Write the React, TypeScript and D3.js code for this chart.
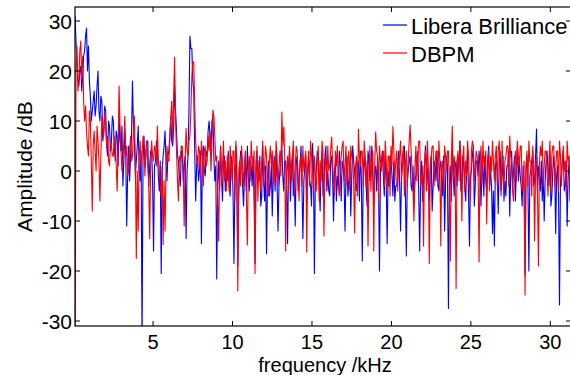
import React from "react";
import * as d3 from "d3";

// frequency grid of the spectrum bins (kHz)
const freqStart = 0.09;
const freqStep = 0.06025;

// Libera Brilliance spectrum (dB)
const liberaValues: number[] = [
  31, 26, 22, 18, 17, 20, 21, 16, 19, 23, 24, 27, 28.6, 20, 25, 18, 15, 10, 12, 14,
  16, 11, 13, 17, 20, 12, 10, 15, 14, 6, 8, 13, 12, 5, 3, 10, 9, 4, 6, 11,
  10, 5, 2, 8, 7, 1, 11, 6, 4, 9, -3, 2, 8, 3, -11, 0, 5, -2, 3, 7,
  18, 9, 6, -1, 2, 5, 9, 0, -2, 4, -35, 2, 7, 1, 3, 6, 6, -3, 1, 4,
  4, -2, -16, 1, 2, 6, 5, -1, -4, 2, -20.5, 0, 3, 5, 8, 2, -2, 3, 4, 7,
  11, 6, 5, 9, 17, 12, 8, 3, 2, -1, -3, 4, 4, -2, 1, 3, -13.5, 0, 3, 12,
  27, 24.5, 24.5, 18, 16, 4, -6, 1, 3, -2, 0, 4, -14.5, 2, 5, 0, -1, 4, 3, 8,
  10, 7, 4, 10, 11, 3, -2, 1, -21.6, -3, 2, -4, 5, -1, -6, 2, 3, -4, 0, -2,
  4, -3, -5, 3, 2, -4, -18.5, -1, 5, -2, -19, -5, 1, 4, 3, -3, -7, -1, 2, -4,
  5, -1, -4, 2, 1, -3, 3, -6, -18.5, 2, 4, -1, -2, 3, -7, -5, 5, -2, -6, 1,
  -16.5, -2, 2, -5, -3, 1, -9, -1, 3, -4, 4, -2, -12, -3, 0, 3, 5, -1, -4, 2,
  2, -3, -14.5, 1, 4, -6, 1, 3, -5, -1, -11, 2, 3, -4, -2, 1, 5, -3, -13.5, -2,
  1, 3, -6, 0, 2, -2, -3, -7, 5.5, 1, -20.5, -1, 0, 4, 3, -3, -8, 1, 4, -5,
  -2, 3, 5, -4, 0, -4, -5, 2, 3, -1, -10, 0, 2, -6, -1, -3, 4, 1, -6, 2,
  1, -2, -12, 0, 3, -5, -2, 2, -9, -1, 5, 2, 0, -3, -4, 1, 2, -6, 4, -1,
  -18, -2, 1, 3, -3, -7, 4, 2, -2, 1, 5, -1, -7, 0, 1, -4, 3, -3, -20, 0,
  2, 4, -1, -5, 4, -2, -14.5, 0, -3, 3, 3, -1, -5, 2, -6, -3, -3, 1, 4, -2,
  -12, -1, 1, 3, 5, -4, -17, -2, 0, 2, 3, -3, -4, 1, -7, -2, -1, 3, 4, -5,
  -16, -1, 2, -6, -2, 1, 5, 2, 0, -4, -6, 1, 3, -8, -3, 2, 1, -2, 4, -3,
  -4, 1, 2, -1, -5, 3, -12, -2, 3, 1, -27.5, -3, 1, -6, 4, 0, -5, 1, 2, -3,
  3, 1, 6, -4, -2, 3, 1, -3, -6, 0, 4, -5, -15, -1, 0, 3, 5, -7, -3, 2,
  2, -1, 4, 1, -7, 0, 1, -5, 3, -2, -4, 2, 5, -3, 0, -3, -12.5, -4, -15, 1,
  2, 0, -8.5, 1, 4, -4, -1, 3, -6, -2, -5, 1, 1, 4, -9, -1, 4, -3, 0, 3,
  -6, 1, 5, -2, 2, -1, -3, -7, 1, -4, -20.8, 0, 3, -2, -20, -1, 0, 2, 4, -3,
  -2, 3, 8.4, -4, 1, -1, -4, 2, -6, 0, -10, -2, 2, 4, 0, -3, 4, -7, -5, 0,
  3, 0, -12.5, -1, 1, -5, -26.8, -2, 0, 2, 4, -4, -3, 2, -11, -1, 2, -6, 1, 3,
];

// DBPM spectrum (dB)
const dbpmValues: number[] = [
  -40, 20, 25, 16, 18, 24, 26, 19, 23, 14, 10, 13, 8, 5, 3, 12, 10, 2, -8, 5,
  8, 4, 0, 9, 6, 2, -6, 3, 11, 8, 7, 12, 9, 5, 7, 2, 1, 6, 5, 3,
  3, 7, 6, 1, -4, 5, 17, 9, 4, 0, 2, 6, 11, 3, 5, -1, 0, 4, 7, 2,
  3, 8, 11, 2, -17.5, 0, -12, 3, 6, 1, 3, 7, 5, -1, 4, 6, 1, -3, -13.5, 2,
  6, 3, 2, 5, 4, 1, 9, 2, 0, -3, -5, 1, -14.7, -2, -12, 0, 5, 2, 2, 6,
  11, 14, 6, 15, 22.8, 10, 4, -2, -6, 3, 2, 5, 5, 0, -11, 2, 8.5, 4, 3, 6,
  7, 12, 19, 22, 21.6, 13, 6, 2, 1, 5, 4, -1, 6, 3, -3, 4, 5, 1, 2, 7,
  4, 8, 0, 6, 12.2, 11, 7, 2, 3, -5, -14, 0, 5, -3, 1, 6, -2, 2, -4, 3,
  3, -4, 5, 2, -2, 4, 4, -6, 6, 2, -24, 0, 2, -3, 5, 1, -3, 2, 4, -5,
  -14.8, 1, 3, -2, 6, 2, 0, 4, -20.5, -2, 5, -6, 2, -1, -4, 2, 6, -3, 1, 5,
  3, -4, -5, 2, 5, 1, 4, -3, 2, -2, 6, 3, -3, 1, 4, -1, 11.8, 5, 8.8, 3,
  -16, 0, 3, -4, 5, 1, -2, 3, 6, -5, 1, 5, 4, -1, -6, 2, 3, -3, 5, 0,
  2, 4, -16.2, 1, 4, -3, 6, 3, 0, -4, 3, -1, -4, 2, 5, -6, 2, -2, 6, 4,
  -13, 1, 3, -3, 5, 0, 1, 4, 6.8, 2, -2, -5, 4, 1, 5, -3, -5, 0, 3, 5,
  6, -2, 1, 5, -3, 2, 4, -4, 5, 3, 2, -2, -12.4, 1, 3, -5, 8.4, 3, 1, 4,
  4, -3, 6, 3, -3, 2, -15, 0, 5, -4, 2, 4, -16, 1, 7.8, 4, 3, -6, 5, 2,
  0, 3, 4, -3, 6, 2, -4, 3, 3, -5, 5, 1, 8.9, 4, -2, 2, 4, -4, 1, 3,
  6, -2, 3, 5, -5, 1, 4, -3, 2, 6, 9.2, 4, 0, -4, -10, 1, 5, -2, 3, 6,
  6, -3, -2, 1, -15, 2, 4, -4, 6, 1, -18.5, 0, 3, 5, 5, -3, 1, 4, 4, -2,
  6, 2, -15, 1, 2, -4, 5, 3, 0, 4, 4, -3, -18, 2, 9, -2, 3, 0, -23.5, 2,
  4, -2, 6, 3, -10, 2, 5, -4, 2, -1, 6, 3, -3, -6, 4, 6, 5, -2, 1, 4,
  3, 0, -18.2, 2, 5, -3, 6, 1, 2, 4, -10.6, 1, 4, -4, 3, 0, 6, 2, -2, 3,
  5, -3, 4, 6, 1, -5, 6, 0, -4, 2, 3, 5, 5, -3, 7, 3, 2, -4, -6, 1,
  4, -2, 6, 3, 1, 5, 5, -4, -3, 2, -24.8, 1, 4, -3, 6, 2, 2, -5, 5, 1,
  -14, 0, 3, -4, -19, 1, 5, 3, 6, -3, 1, 4, 4, 0, -5, 2, 6, -4, 3, 5,
  5, -3, 0, 4, 4, -4, 6, 3, -3, 2, 5, 0, 2, -5, 6, 2, 3, -3, 4, 1,
];

const xTicks = [5, 10, 15, 20, 25, 30];
const yTicks = [-30, -20, -10, 0, 10, 20, 30];
const seriesNames = ["Libera Brilliance", "DBPM"];
const seriesColors = ["#0000ff", "#ff0000"];

const W = 570;
const H = 375;
const left = 75;
const right = 571;
const top = 7;
const bottom = 326;
const font = "Liberation Sans, Arial, Helvetica, sans-serif";

export default function App() {
  const x = d3.scaleLinear().domain([0.088, 31.3]).range([left, right]);
  const y = d3.scaleLinear().domain([-31, 32.8]).range([bottom, top]);
  const line = d3
    .line<number>()
    .x((_, i) => x(freqStart + i * freqStep))
    .y((v) => y(v));

  const series = [liberaValues, dbpmValues];
  const tickLen = 5;

  return (
    <svg
      width={W}
      height={H}
      style={{ position: "absolute", left: 0, top: 0, background: "#fff" }}
    >
      <defs>
        <clipPath id="plotclip">
          <rect x={left} y={top} width={right - left} height={bottom - top} />
        </clipPath>
      </defs>
      <rect x={0} y={0} width={W} height={H} fill="#fff" />
      <g clipPath="url(#plotclip)">
        {series.map((s, k) => (
          <path
            key={k}
            d={line(s) || ""}
            fill="none"
            stroke={seriesColors[k]}
            strokeWidth={1.1}
            strokeLinejoin="round"
          />
        ))}
      </g>
      {/* axes box */}
      <rect
        x={left}
        y={top}
        width={right - left}
        height={bottom - top}
        fill="none"
        stroke="#000"
        strokeWidth={1.2}
      />
      {/* x ticks */}
      {xTicks.map((t) => (
        <g key={"x" + t}>
          <line x1={x(t)} x2={x(t)} y1={bottom} y2={bottom - tickLen} stroke="#000" />
          <line x1={x(t)} x2={x(t)} y1={top} y2={top + tickLen} stroke="#000" />
          <text
            x={x(t)}
            y={349}
            textAnchor="middle"
            fontFamily={font}
            fontSize={20}
            fill="#000"
          >
            {String(t)}
          </text>
        </g>
      ))}
      {/* y ticks */}
      {yTicks.map((t) => (
        <g key={"y" + t}>
          <line x1={left} x2={left + tickLen} y1={y(t)} y2={y(t)} stroke="#000" />
          <line x1={right} x2={right - tickLen} y1={y(t)} y2={y(t)} stroke="#000" />
          <text
            x={left - 3}
            y={y(t)}
            dy="0.36em"
            textAnchor="end"
            fontFamily={font}
            fontSize={21}
            fill="#000"
          >
            {String(t)}
          </text>
        </g>
      ))}
      {/* axis labels */}
      <text
        x={325}
        y={372}
        textAnchor="middle"
        fontFamily={font}
        fontSize={20}
        fill="#000"
      >
        frequency /kHz
      </text>
      <text
        transform={`translate(32,${(top + bottom) / 2}) rotate(-90)`}
        textAnchor="middle"
        fontFamily={font}
        fontSize={21}
        fill="#000"
      >
        Amplitude /dB
      </text>
      {/* legend */}
      {seriesNames.map((n, k) => (
        <g key={n}>
          <line
            x1={383}
            x2={407}
            y1={25 + k * 28}
            y2={25 + k * 28}
            stroke={seriesColors[k]}
            strokeWidth={1.2}
          />
          <text
            x={411}
            y={34 + k * 28}
            fontFamily={font}
            fontSize={22}
            fill="#000"
          >
            {n}
          </text>
        </g>
      ))}
    </svg>
  );
}
